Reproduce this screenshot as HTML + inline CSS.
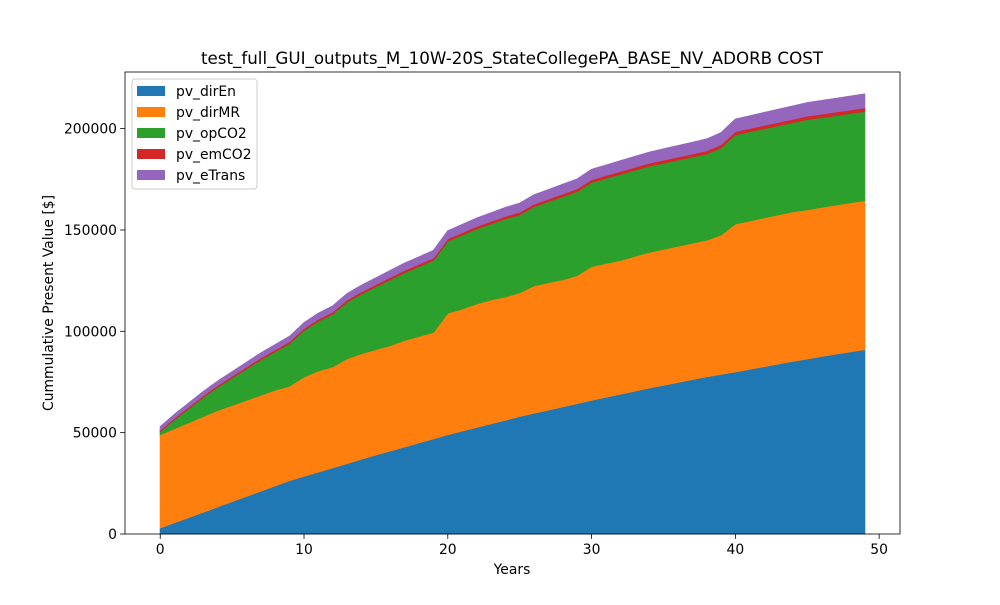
<!DOCTYPE html>
<html><head><meta charset="utf-8"><style>
body{margin:0;background:#fff;}
svg text{font-family:"DejaVu Sans","Liberation Sans",sans-serif;fill:#000;}
</style></head><body>
<svg id="chart" width="1000" height="600" xmlns="http://www.w3.org/2000/svg">
<rect width="1000" height="600" fill="#fff"/>
<text x="512" y="64" font-size="16.7" text-anchor="middle">test_full_GUI_outputs_M_10W-20S_StateCollegePA_BASE_NV_ADORB COST</text>
<g id="areas"></g>
<rect x="125" y="72" width="775" height="462" fill="none" stroke="#000" stroke-width="0.8"/>
<g id="xticks"></g><g id="yticks"></g>
<text x="512" y="574" font-size="13.9" text-anchor="middle">Years</text>
<text transform="translate(53,303) rotate(-90)" font-size="13.9" text-anchor="middle">Cummulative Present Value [$]</text>
<g id="legend"></g>
</svg>
<script>
const years=[...Array(50).keys()];
const pv_dirEn=[3000,5600,8200,10800,13400,16000,18600,21200,23800,26400,28500,30600,32700,34800,36900,39000,41000,43000,45000,47000,49000,50800,52600,54400,56200,58000,59600,61200,62800,64400,66000,67500,69000,70500,72000,73400,74800,76200,77600,78800,80000,81300,82600,83900,85200,86400,87600,88800,89900,91000];
const pv_dirMR=[46000,46400,46800,47200,47600,47500,47400,47300,47200,46600,49000,49900,49800,51700,52100,52000,52000,52500,52500,52500,60000,60200,60900,61100,60800,61000,62900,62800,62700,63100,66000,66000,66000,66500,67000,67100,67200,67300,67400,68700,73000,73200,73400,73600,73800,73600,73600,73500,73600,73500];
const pv_opCO2=[1500,4500,7000,9500,11500,13500,15500,17500,19000,21000,23000,24500,26000,28000,29500,31000,32500,33500,34500,35500,35500,36500,37000,37500,38500,38500,39000,40000,41000,41500,41500,42000,42500,42500,42500,42500,42500,42500,42500,43000,44000,44000,44000,44000,44000,44500,44300,44200,44000,44000];
const pv_emCO2=[800,820,840,860,880,900,920,940,960,980,1000,1020,1040,1060,1080,1100,1120,1140,1160,1180,1200,1220,1240,1260,1280,1300,1320,1340,1360,1380,1400,1420,1440,1460,1480,1500,1520,1540,1560,1580,1600,1620,1640,1660,1680,1700,1720,1740,1760,1780];
const pv_eTrans=[1700,1800,1900,2000,2100,2200,2300,2400,2500,2600,2800,2900,3000,3100,3200,3300,3400,3500,3600,3700,3900,4000,4100,4200,4300,4400,4500,4600,4700,4800,5000,5100,5200,5300,5400,5500,5600,5700,5800,5900,6100,6200,6300,6400,6500,6600,6650,6700,6750,6800];
const seriesNames=["pv_dirEn","pv_dirMR","pv_opCO2","pv_emCO2","pv_eTrans"];
const seriesVals=[pv_dirEn,pv_dirMR,pv_opCO2,pv_emCO2,pv_eTrans];
const colors=["#1f77b4","#ff7f0e","#2ca02c","#d62728","#9467bd"];
const xTicks=[0,10,20,30,40,50];
const yTicks=[0,50000,100000,150000,200000];
const NS="http://www.w3.org/2000/svg";
const L=125,R=900,T=72,B=534;
const xmin=-2.45,xmax=51.45;
let maxTot=0;years.forEach((y,i)=>{let s=0;seriesVals.forEach(a=>s+=a[i]);maxTot=Math.max(maxTot,s);});
const ymax=maxTot*1.05;
const X=v=>L+(v-xmin)/(xmax-xmin)*(R-L);
const Y=v=>B-v/ymax*(B-T);
const g=document.getElementById('areas');
let base=years.map(()=>0);
seriesVals.forEach((arr,k)=>{
 const top=base.map((b,i)=>b+arr[i]);
 let d="M"+years.map((x,i)=>X(x)+","+Y(top[i])).join("L");
 for(let i=years.length-1;i>=0;i--) d+="L"+X(years[i])+","+Y(base[i]);
 d+="Z";
 const p=document.createElementNS(NS,'path');
 p.setAttribute('d',d);p.setAttribute('fill',colors[k]);p.setAttribute('stroke',colors[k]);p.setAttribute('stroke-width','1');
 
 
 g.appendChild(p);
 base=top;
});
const xt=document.getElementById('xticks');
xTicks.forEach(v=>{
 const l=document.createElementNS(NS,'line');
 l.setAttribute('x1',X(v));l.setAttribute('x2',X(v));l.setAttribute('y1',B);l.setAttribute('y2',B+4.9);l.setAttribute('stroke','#000');l.setAttribute('stroke-width','0.8');
 
 
 xt.appendChild(l);
 const t=document.createElementNS(NS,'text');
 t.setAttribute('x',X(v));t.setAttribute('y',B+20);t.setAttribute('font-size','13.9');t.setAttribute('text-anchor','middle');t.textContent=v;
 
 
 xt.appendChild(t);
});
const yt=document.getElementById('yticks');
yTicks.forEach(v=>{
 const l=document.createElementNS(NS,'line');
 l.setAttribute('x1',L-4.9);l.setAttribute('x2',L);l.setAttribute('y1',Y(v));l.setAttribute('y2',Y(v));l.setAttribute('stroke','#000');l.setAttribute('stroke-width','0.8');
 
 
 yt.appendChild(l);
 const t=document.createElementNS(NS,'text');
 t.setAttribute('x',L-8);t.setAttribute('y',Y(v)+5);t.setAttribute('font-size','13.9');t.setAttribute('text-anchor','end');t.textContent=v;
 
 
 yt.appendChild(t);
});
const lg=document.getElementById('legend');
const box=document.createElementNS(NS,'rect');
box.setAttribute('x',132);box.setAttribute('y',79);box.setAttribute('width',125);box.setAttribute('height',110);box.setAttribute('rx',3);
box.setAttribute('fill','#fff');box.setAttribute('fill-opacity','0.8');box.setAttribute('stroke','#ccc');


lg.appendChild(box);
seriesNames.forEach((n,k)=>{
 const y=86+k*21;
 const r=document.createElementNS(NS,'rect');
 r.setAttribute('x',137);r.setAttribute('y',y);r.setAttribute('width',28);r.setAttribute('height',10);r.setAttribute('fill',colors[k]);
 
 
 lg.appendChild(r);
 const t=document.createElementNS(NS,'text');
 t.setAttribute('x',176);t.setAttribute('y',y+10);t.setAttribute('font-size','13.9');t.textContent=n;
 
 
 lg.appendChild(t);
});
</script>
</body></html>
